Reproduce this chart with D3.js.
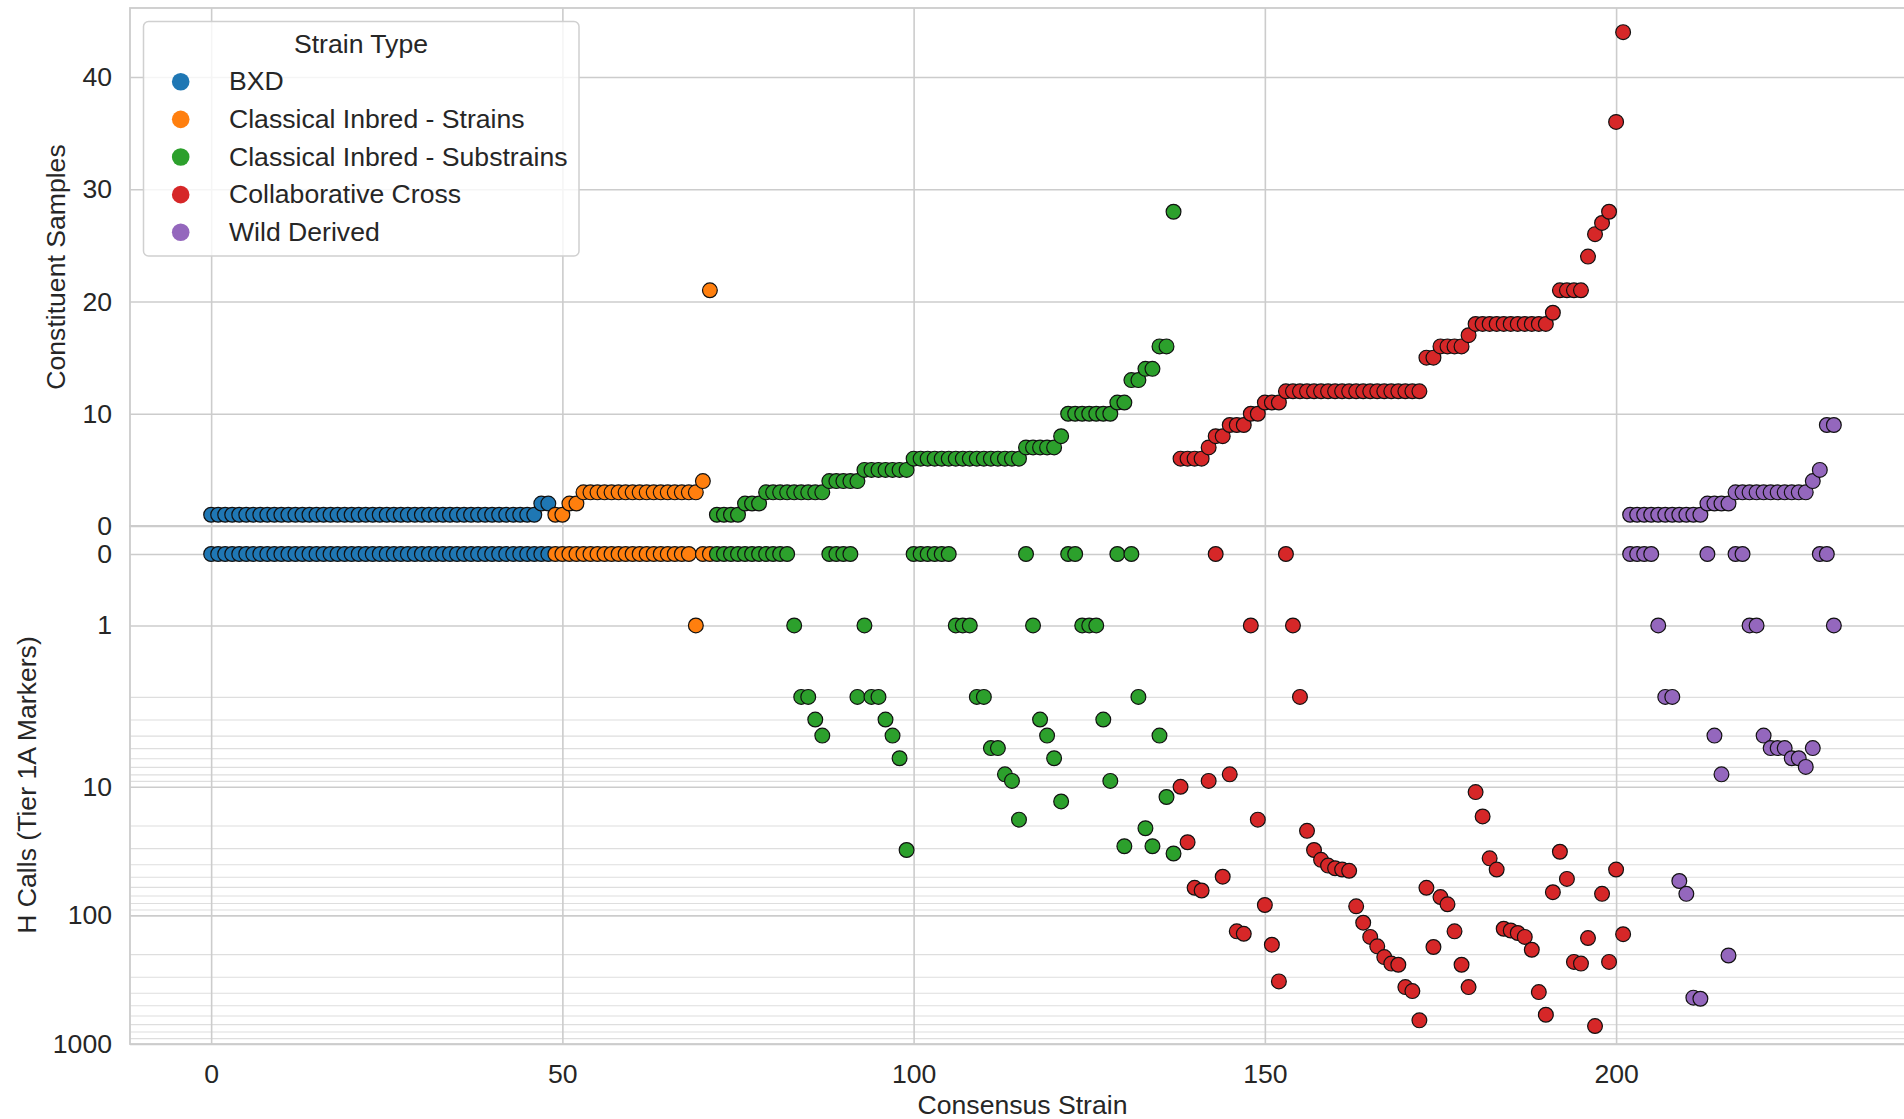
<!DOCTYPE html>
<html><head><meta charset="utf-8">
<script src="https://cdn.jsdelivr.net/npm/d3@7"></script>
<style>html,body{margin:0;padding:0;background:#fff;} svg{display:block;font-family:"Liberation Sans",Arial,Helvetica,sans-serif;}</style>
</head><body><svg id="chart" width="1904" height="1119"></svg>
<script>
// ---------- DATA ----------
const groupNames = ["BXD","Classical Inbred - Strains","Classical Inbred - Substrains","Collaborative Cross","Wild Derived"];
const groupColors = ["#1f77b4","#ff7f0e","#2ca02c","#d62728","#9467bd"];

const bxdSamples = [1,1,1,1,1,1,1,1,1,1, 1,1,1,1,1,1,1,1,1,1, 1,1,1,1,1,1,1,1,1,1, 1,1,1,1,1,1,1,1,1,1, 1,1,1,1,1,1,1,2,2];
const bxdHCalls  = [0,0,0,0,0,0,0,0,0,0, 0,0,0,0,0,0,0,0,0,0, 0,0,0,0,0,0,0,0,0,0, 0,0,0,0,0,0,0,0,0,0, 0,0,0,0,0,0,0,0,0];

const ciStrainSamples = [1,1,2,2,3,3,3,3,3,3,3,3,3,3,3,3,3,3,3,3,3,4,21];
const ciStrainHCalls  = [0,0,0,0,0,0,0,0,0,0,0,0,0,0,0,0,0,0,0,0,1,0,0];

const ciSubSamples = [1,1,1,1,2,2,2,3,3,3,3,3,3,3,3,3,4,4,4,4,4,5,5,5,5,5,5,5,
  6,6,6,6,6,6,6,6,6,6,6,6,6,6,6,6,7,7,7,7,7,8,10,10,10,10,10,10,10,11,11,13,13,14,14,16,16,28];
const ciSubHCalls = [0,0,0,0,0,0,0,0,0,0,0,1,2,2,3,4,0,0,0,0,2,1,2,2,3,4,6,31,
  0,0,0,0,0,0,1,1,1,2,2,5,5,8,9,18,0,1,3,4,6,13,0,0,1,1,1,3,9,0,29,0,2,21,29,4,12,33];

const ccSamples = [6,6,6,6,7,8,8,9,9,9,10,10,11,11,11,
  12,12,12,12,12,12,12,12,12,12,12,12,12,12,12,12,12,12,12,12,
  15,15,16,16,16,16,17,18,18,18,18,18,18,18,18,18,18,18,19,21,21,21,21,24,26,27,28,36,44];
const ccHCalls = [10,27,61,64,9,0,50,8,133,139,1,18,83,169,326,
  0,1,2,22,31,37,41,43,44,45,85,114,147,174,211,237,242,361,388,655,
  61,176,72,82,133,242,361,11,17,36,44,127,131,137,147,185,395,592,66,32,52,230,237,150,725,68,230,44,140];

const wdSamples = [1,1,1,1,1,1,1,1,1,1,1,2,2,2,2,3,3,3,3,3,3,3,3,3,3,3,4,5,9,9];
const wdHCalls  = [0,0,0,0,1,2,2,54,68,436,445,0,4,8,205,0,0,1,1,4,5,5,5,6,6,7,5,0,0,1];

const topTicks = [0,10,20,30,40];
const botTicks = [0,1,10,100,1000];
const botMinor = [2,3,4,5,6,7,8,9,20,30,40,50,60,70,80,90,200,300,400,500,600,700,800,900];
const xTicks = [0,50,100,150,200];

// ---------- LAYOUT ----------
const svg = d3.select("#chart");
const axL = 130, axR = 1915, topT = 8, mid = 526, botB = 1044;
const FS = 26.6, TXT = "#262626", GRID = "#cccccc";

const sets = [[bxdSamples,bxdHCalls],[ciStrainSamples,ciStrainHCalls],[ciSubSamples,ciSubHCalls],[ccSamples,ccHCalls],[wdSamples,wdHCalls]];
const pts = [];
let idx = 0;
sets.forEach((s,gi)=>{ s[0].forEach((v,j)=>{ pts.push({i:idx++, g:gi, s:v, h:s[1][j]}); }); });

const x = d3.scaleLinear().domain([-11.55, 242.55]).range([axL, axR]);
const yTop = d3.scaleLinear().domain([0, 46.15]).range([mid, topT]);
const LIN = 1/(1-1/10), THR = 2;
const symT = v => { const a = Math.abs(v); return a <= THR ? v/THR*LIN : Math.sign(v)*(LIN + Math.log10(a/THR)); };
const yBotT = d3.scaleLinear().domain([-0.2179, symT(1000)]).range([mid, botB]);
const yBot = v => yBotT(symT(v));

// ---------- GRID ----------
function styleGrid(g, color, width){
  g.select(".domain").remove();
  g.selectAll(".tick line").attr("stroke", color).attr("stroke-width", width);
  g.selectAll(".tick text").attr("font-size", FS).attr("fill", TXT).attr("font-family", '"Liberation Sans",Arial,sans-serif');
}
svg.append("g").attr("transform", `translate(${axL},0)`)
  .call(d3.axisLeft(yBotT).tickValues(botMinor.map(symT)).tickSize(-(axR-axL)).tickFormat(""))
  .call(g=>styleGrid(g, "#dedede", 1.1));
svg.append("g").attr("transform", `translate(${axL},0)`)
  .call(d3.axisLeft(yBotT).tickValues(botTicks.map(symT)).tickSize(-(axR-axL)).tickPadding(18)
        .tickFormat((d,i)=>String(botTicks[i])))
  .call(g=>styleGrid(g, GRID, 1.6));
svg.append("g").attr("transform", `translate(${axL},0)`)
  .call(d3.axisLeft(yTop).tickValues(topTicks).tickSize(-(axR-axL)).tickPadding(18).tickFormat(d3.format("d")))
  .call(g=>styleGrid(g, GRID, 1.6));
svg.append("g").attr("transform", `translate(0,${botB})`)
  .call(d3.axisBottom(x).tickValues(xTicks).tickSize(-(botB-topT)).tickPadding(20).tickFormat(d3.format("d")))
  .call(g=>styleGrid(g, GRID, 1.6));

const sp = svg.append("g").attr("fill","none").attr("stroke", GRID).attr("stroke-width", 1.8);
sp.append("rect").attr("x", axL).attr("y", topT).attr("width", axR-axL).attr("height", mid-topT);
sp.append("rect").attr("x", axL).attr("y", mid).attr("width", axR-axL).attr("height", botB-mid);

// ---------- POINTS ----------
const R = 7.4;
const pg = svg.append("g");
pts.forEach(p=>{
  pg.append("circle").attr("cx", x(p.i)).attr("cy", yTop(p.s)).attr("r", R)
    .attr("fill", groupColors[p.g]).attr("stroke", "#111").attr("stroke-width", 1.2);
});
pts.forEach(p=>{
  pg.append("circle").attr("cx", x(p.i)).attr("cy", yBot(p.h)).attr("r", R)
    .attr("fill", groupColors[p.g]).attr("stroke", "#111").attr("stroke-width", 1.2);
});

// ---------- LABELS ----------
svg.append("text").attr("x", (axL+axR)/2).attr("y", 1113.5).attr("text-anchor","middle")
  .attr("font-size", FS).attr("fill", TXT).text("Consensus Strain");
svg.append("text").attr("transform", `translate(65,${(topT+mid)/2}) rotate(-90)`).attr("text-anchor","middle")
  .attr("font-size", FS).attr("fill", TXT).text("Constituent Samples");
svg.append("text").attr("transform", `translate(36,${(mid+botB)/2}) rotate(-90)`).attr("text-anchor","middle")
  .attr("font-size", FS).attr("fill", TXT).text("H Calls (Tier 1A Markers)");

// ---------- LEGEND ----------
const lg = svg.append("g");
lg.append("rect").attr("x", 143.5).attr("y", 21.5).attr("width", 435.5).attr("height", 234.5).attr("rx", 5)
  .attr("fill", "#fff").attr("fill-opacity", 0.8).attr("stroke", "#d0d0d0").attr("stroke-width", 1.5);
lg.append("text").attr("x", 361).attr("y", 52.5).attr("text-anchor","middle").attr("font-size", FS).attr("fill", TXT).text("Strain Type");
const rowY = d3.scaleLinear().domain([0,4]).range([81.7, 232.3]);
groupNames.forEach((n,i)=>{
  lg.append("circle").attr("cx", 180.7).attr("cy", rowY(i)).attr("r", 8.8).attr("fill", groupColors[i]);
  lg.append("text").attr("x", 229).attr("y", rowY(i)+8.5).attr("font-size", FS).attr("fill", TXT).text(n);
});
</script></body></html>
